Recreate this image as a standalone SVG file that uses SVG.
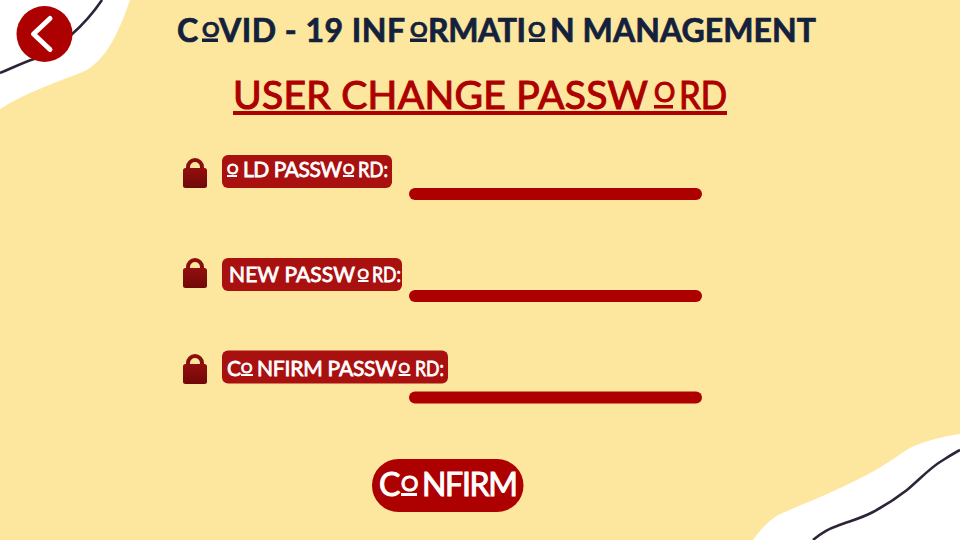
<svg xmlns="http://www.w3.org/2000/svg" width="960" height="540" viewBox="0 0 960 540">
<style>
text{font-family:"Lato","Liberation Sans",sans-serif}
.t{fill:#14213d;font-size:32px;font-weight:700;stroke:#14213d;stroke-width:.7}
.h{fill:#ad0000;font-size:39px;font-weight:400;stroke:#ad0000;stroke-width:1.1}
.l{fill:#fff;font-size:21px;font-weight:400;stroke:#fff;stroke-width:.8}
.b{fill:#fff;font-size:32px;font-weight:400;stroke:#fff;stroke-width:1}
.s{fill:#a91010}
.f{fill:#ad0000}
.n{fill:#14213d}
.w{fill:#fff}
.d{fill:none;stroke:#2d2438;stroke-width:2.6}
.o{font-size:.68em}
</style>
<defs>
<linearGradient id="lg" x1="0" y1="0" x2="0" y2="1"><stop offset="0" stop-color="#930f0f"/><stop offset="1" stop-color="#700808"/></linearGradient>
<g id="lock"><path d="M188 170v-3a7 7 0 0 1 14 0v3" fill="none" stroke="#8a0e0e" stroke-width="4"/><rect x="183" y="168" width="24" height="20" rx="2.500" fill="url(#lg)"/></g>
</defs>
<rect width="960" height="540" fill="#fde69d"/>
<g id="decor-top-left">
<path class="w" d="M0 0H130C119 32 106 60 85 71C55 83 25 93 0 109Z"/>
<path class="d" d="M0 73C12 68 22 63 34 59C60 48 85 25 102 0"/>
</g>
<g id="decor-bottom-right">
<path class="w" d="M753 540C760 530 768 521 778 515C800 505 820 498 840 488C865 477 885 465 902 453C915 443 940 437 960 434V540Z"/>
<path class="d" d="M813 540C820 534 828 529 837 526C850 521 862 518 873 512C888 504 898 497 907 490C918 481 930 468 940 462C948 457 954 453 960 450"/>
</g>
<g id="back-button">
<circle class="f" cx="44.500" cy="34" r="28"/>
<path d="M50 18.500L33.500 34L50 49.500" fill="none" stroke="#fff" stroke-width="5" stroke-linecap="round" stroke-linejoin="round"/>
</g>
<g id="title">
<text class="t" y="42"><tspan x="177">C</tspan><tspan class="o" x="202" dy="-5">O</tspan><tspan x="219" dy="5" textLength="186" lengthAdjust="spacing">VID - 19 INF</tspan><tspan class="o" x="410" dy="-5">O</tspan><tspan x="428" dy="5" textLength="98" lengthAdjust="spacing">RMATI</tspan><tspan class="o" x="528" dy="-5">O</tspan><tspan x="550" dy="5" textLength="266" lengthAdjust="spacing">N MANAGEMENT</tspan></text>
<rect class="n" x="202" y="38.500" width="16" height="3.500"/>
<rect class="n" x="410" y="38.500" width="17" height="3.500"/>
<rect class="n" x="529" y="38.500" width="16" height="3.500"/>
</g>
<g id="heading">
<text class="h" y="109"><tspan x="233" textLength="415" lengthAdjust="spacing">USER CHANGE PASSW</tspan><tspan class="o" x="654" dy="-7">O</tspan><tspan x="679" dy="7" textLength="48" lengthAdjust="spacingAndGlyphs">RD</tspan></text>
<rect class="f" x="654" y="105" width="19" height="3.500"/>
<rect class="f" x="233" y="111" width="494" height="4"/>
</g>
<g id="old-password">
<use href="#lock"/>
<rect class="s" x="222" y="155" width="170" height="33" rx="6"/>
<text class="l" y="177"><tspan class="o" x="227" dy="-3">O</tspan><tspan x="243" dy="3" textLength="99" lengthAdjust="spacing">LD PASSW</tspan><tspan class="o" x="343" dy="-3">O</tspan><tspan x="358" dy="3" textLength="30" lengthAdjust="spacingAndGlyphs">RD:</tspan></text>
<rect class="w" x="227" y="175" width="10" height="2"/>
<rect class="w" x="343" y="175" width="11" height="2"/>
<rect class="f" x="409" y="188" width="293" height="12" rx="6"/>
</g>
<g id="new-password">
<use href="#lock" y="100"/>
<rect class="s" x="222" y="258" width="180" height="33" rx="6"/>
<text class="l" y="282"><tspan x="229" textLength="126" lengthAdjust="spacing">NEW PASSW</tspan><tspan class="o" x="357.500" dy="-3">O</tspan><tspan x="372" dy="3" textLength="29" lengthAdjust="spacingAndGlyphs">RD:</tspan></text>
<rect class="w" x="358" y="280" width="10.500" height="2"/>
<rect class="f" x="409" y="290" width="293" height="12" rx="6"/>
</g>
<g id="confirm-password">
<use href="#lock" y="196"/>
<rect class="s" x="222" y="350.500" width="226" height="33" rx="6"/>
<text class="l" y="376"><tspan x="227">C</tspan><tspan class="o" x="241" dy="-3">O</tspan><tspan x="257" dy="3" textLength="140" lengthAdjust="spacing">NFIRM PASSW</tspan><tspan class="o" x="398.500" dy="-3">O</tspan><tspan x="415" dy="3" textLength="29" lengthAdjust="spacingAndGlyphs">RD:</tspan></text>
<rect class="w" x="241" y="374" width="12" height="2"/>
<rect class="w" x="398.500" y="374" width="12" height="2"/>
<rect class="f" x="409" y="391.500" width="293" height="12" rx="6"/>
</g>
<g id="confirm-button">
<rect class="f" x="372" y="459" width="151.500" height="53" rx="26.500"/>
<text class="b" y="496"><tspan x="379">C</tspan><tspan class="o" x="401" dy="-5">O</tspan><tspan x="422" dy="5" textLength="96" lengthAdjust="spacing">NFIRM</tspan></text>
<rect class="w" x="401" y="493" width="16" height="3"/>
</g>
<g id="connectors"/>
</svg>
